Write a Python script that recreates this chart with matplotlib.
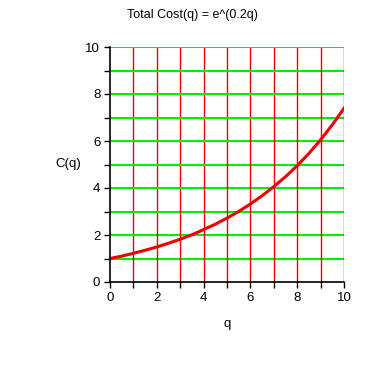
import matplotlib
matplotlib.use("Agg")
import matplotlib.pyplot as plt

# values
q = [0, 0.5, 1, 1.5, 2, 2.5, 3, 3.5, 4, 4.5, 5, 5.5, 6, 6.5, 7, 7.5, 8, 8.5, 9, 9.5, 10]
cost = [1.0, 1.1, 1.22, 1.35, 1.49, 1.65, 1.82, 2.01, 2.23, 2.46, 2.72, 3.0, 3.32,
        3.67, 4.06, 4.48, 4.95, 5.47, 6.05, 6.69, 7.39]
ticks = list(range(0, 11))
labels = [str(t) if t % 2 == 0 else "" for t in ticks]

plt.rcParams['font.family'] = ['Liberation Sans', 'DejaVu Sans']
fig = plt.figure(figsize=(3.82, 3.82), dpi=100)
ax = fig.add_axes([110/382, 100/382, 234/382, 235/382])

for t in ticks[1:]:
    ax.axhline(t, color='#00ee00', lw=1.5, zorder=1)
    ax.axvline(t, color='#ee0000', lw=1.0, zorder=1)

ax.plot(q, cost, color='#ee0000', lw=2.2, zorder=3)

ax.set_xlim(0, 10)
ax.set_ylim(0, 10)
ax.set_xticks(ticks)
ax.set_xticklabels(labels)
ax.set_yticks(ticks)
ax.set_yticklabels(labels)
ax.tick_params(direction='out', length=4, width=1, labelsize=9.5, pad=3, colors='black')
for s in ['top', 'right']:
    ax.spines[s].set_visible(False)
for s in ['left', 'bottom']:
    ax.spines[s].set_linewidth(1.2)
ax.spines['left'].set_zorder(4)
ax.spines['bottom'].set_zorder(4)

ax.set_xlabel('q', fontsize=9.5, labelpad=10)
ax.set_ylabel('C(q)', fontsize=9.5, rotation=0, labelpad=12, va='center')
fig.text(192/382, 1 - 15/382, 'Total Cost(q) = e^(0.2q)', ha='center', va='center', fontsize=9)

fig.savefig('out.png', dpi=100)
